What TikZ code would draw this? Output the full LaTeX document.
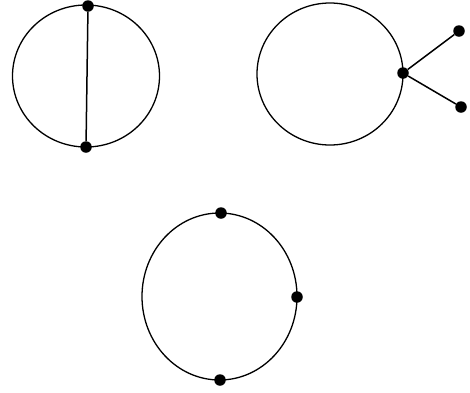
\documentclass[tikz,border=0pt]{standalone}
\begin{document}
\begin{tikzpicture}[x=1pt,y=-1pt,
  vdot/.style={circle,fill=black,inner sep=0pt,minimum size=11.5pt},
  ring/.style={draw=black,line width=1.3pt},
  edge/.style={draw=black,line width=1.5pt}]
\useasboundingbox (0,0) rectangle (470,392);
% graph 1
\draw[ring] (86,76) ellipse [x radius=73.5, y radius=71];
\node[vdot] (a1) at (88,6) {};
\node[vdot] (a2) at (86,147) {};
\draw[edge] (a1) -- (a2);
% graph 2
\draw[ring] (330,74) ellipse [x radius=73, y radius=71];
\node[vdot] (b0) at (403,73) {};
\node[vdot] (b1) at (459,31) {};
\node[vdot] (b2) at (461,107) {};
\draw[edge] (b0) -- (b1);
\draw[edge] (b0) -- (b2);
% graph 3
\draw[ring] (219.5,296.5) ellipse [x radius=77.5, y radius=83.5];
\node[vdot] (c1) at (221,213) {};
\node[vdot] (c2) at (297,297) {};
\node[vdot] (c3) at (220,380) {};
\end{tikzpicture}
\end{document}
